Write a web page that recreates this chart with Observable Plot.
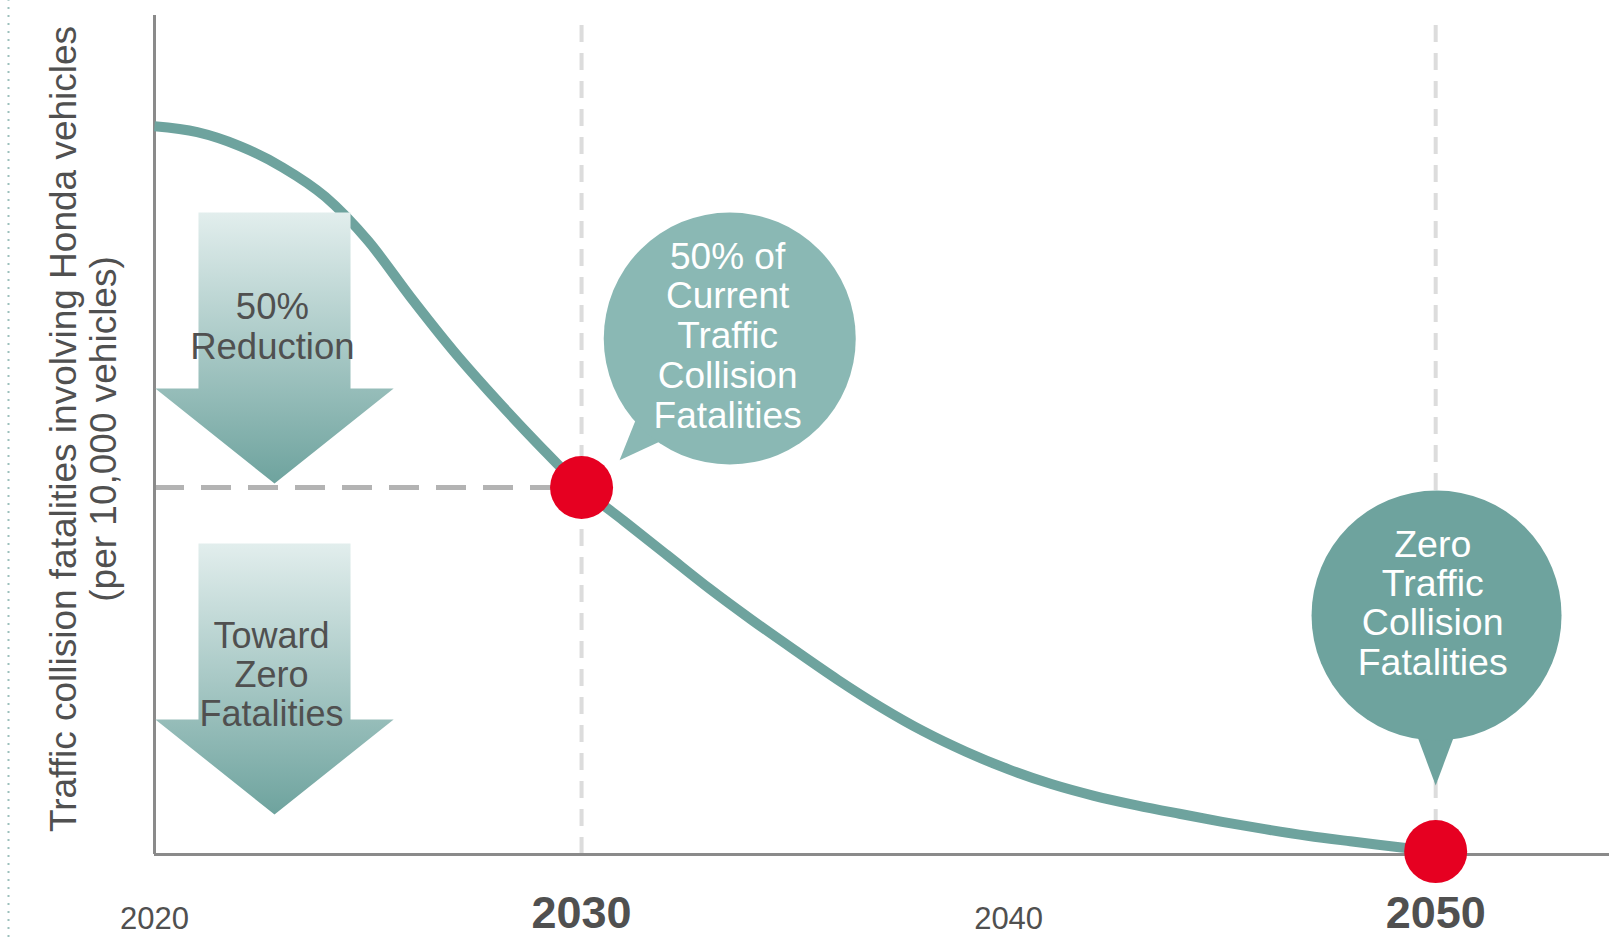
<!DOCTYPE html>
<html>
<head>
<meta charset="utf-8">
<script src="https://cdn.jsdelivr.net/npm/d3@7"></script>
<script src="https://cdn.jsdelivr.net/npm/@observablehq/plot@0.6"></script>
<style>
  body { margin: 0; background: #fff; }
  #chart svg { display: block; }
</style>
</head>
<body>
<div id="chart"></div>
<script>
// ---- data ----
const years = [2020,2021,2022,2023,2024,2025,2026,2027,2028,2029,2030,2031,2032,2033,2034,2035,2036,2037,2038,2039,2040,2041,2042,2043,2044,2045,2046,2047,2048,2049,2050];
const fatalities = [99.2,98.4,96.5,93.6,89.6,83.6,75.9,68.6,62.0,55.8,50.0,45.4,40.8,36.2,31.9,27.8,23.8,20.1,16.8,14.0,11.6,9.6,8.0,6.7,5.55,4.45,3.45,2.55,1.8,1.1,0.4];

const tickYears = [2020, 2030, 2040, 2050];
const tickBold = [false, true, false, true];

const milestoneYears = [2030, 2050];
const milestoneValues = [50, 0.4];

const yLabelLines = ["Traffic collision fatalities involving Honda vehicles", "(per 10,000 vehicles)"];
const arrowLabels = ["50%\nReduction", "Toward\nZero\nFatalities"];
const bubbleLabels = ["50% of\nCurrent\nTraffic\nCollision\nFatalities", "Zero\nTraffic\nCollision\nFatalities"];

// annotation anchors in data units (year, value)
const arrowX = {left: 2021.03, right: 2024.59, headLeft: 2020.02, headRight: 2025.60, tip: 2022.81};
const arrowTops = [87.47, 42.37];
const arrowNecks = [63.49, 18.39];
const arrowTips = [50.54, 5.45];
const arrowTextX = [2022.76, 2022.74];
const arrowTextY = [67.57, 17.57];

const bubbleX = [2033.47, 2050.02];
const bubbleY = [70.30, 32.56];
const bubbleTextX = [2033.42, 2049.93];
const bubbleTextY = [58.17, 24.52];
const tail1X = [2031.26, 2030.89, 2031.85];
const tail1Y = [59.1, 53.7, 56.3];
const tail2X = [2049.58, 2050.0, 2050.42];
const tail2Y = [15.94, 9.40, 15.94];

// ---- tables ----
const curve = years.map((y, i) => ({year: y, value: fatalities[i]}));
const milestones = milestoneYears.map((y, i) => ({year: y, value: milestoneValues[i]}));
const ticks = tickYears.map((y, i) => ({year: y, bold: tickBold[i], label: String(y)}));
const arrowPts = [];
arrowTops.forEach((top, i) => {
  const neck = arrowNecks[i], tip = arrowTips[i];
  [[arrowX.left, top], [arrowX.right, top], [arrowX.right, neck], [arrowX.headRight, neck],
   [arrowX.tip, tip], [arrowX.headLeft, neck], [arrowX.left, neck]]
    .forEach(([x, y]) => arrowPts.push({id: i, x, y}));
});
const arrowText = arrowLabels.map((t, i) => ({text: t, x: arrowTextX[i], y: arrowTextY[i]}));
const bubbles = bubbleX.map((x, i) => ({x, y: bubbleY[i], text: bubbleLabels[i], tx: bubbleTextX[i], ty: bubbleTextY[i]}));
const tail1 = tail1X.map((x, i) => ({x, y: tail1Y[i]}));
const tail2 = tail2X.map((x, i) => ({x, y: tail2Y[i]}));

const teal = "#6ea39e";
const tealLight = "#8ab8b4";
const red = "#e60021";
const grayText = "#505050";
const font = "Liberation Sans, Arial, Helvetica, sans-serif";
const xMax = 2054.07, yMax = 114.3;

const chart = Plot.plot({
  width: 1609,
  height: 937,
  marginLeft: 154,
  marginRight: 0,
  marginTop: 15,
  marginBottom: 83,
  x: {domain: [2020, xMax], axis: null},
  y: {domain: [0, yMax], axis: null},
  style: {fontFamily: font, background: "#fff", overflow: "visible"},
  marks: [
    // left dotted border
    Plot.ruleX([2020], {dx: -146, y1: -11.3, y2: 116.3, stroke: "#9cc0bc", strokeWidth: 2, strokeDasharray: "2 6"}),
    // milestone verticals
    Plot.ruleX(milestoneYears, {y1: 0, y2: yMax, stroke: "#dcdcdc", strokeWidth: 4, strokeDasharray: "17 11"}),
    // 50% horizontal
    Plot.ruleY([milestoneValues[0]], {x1: 2020, x2: milestoneYears[0], stroke: "#b3b3b3", strokeWidth: 5, strokeDasharray: "30 17"}),
    // axes
    Plot.ruleX([2020], {y1: 0, y2: yMax, stroke: "#8a8a8a", strokeWidth: 3}),
    Plot.ruleY([0], {x1: 2020, x2: xMax, stroke: "#8a8a8a", strokeWidth: 3}),
    // curve
    Plot.line(curve, {x: "year", y: "value", stroke: teal, strokeWidth: 10, strokeLinecap: "butt", curve: "monotone-x"}),
    // arrows
    Plot.line(arrowPts, {x: "x", y: "y", z: "id", fill: "url(#arrowGrad)", stroke: "none"}),
    Plot.text([arrowText[0]], {x: "x", y: "y", text: "text", fontSize: 36.5, lineHeight: 1.096, lineAnchor: "bottom", textAnchor: "middle", fill: grayText}),
    Plot.text([arrowText[1]], {x: "x", y: "y", text: "text", fontSize: 36, lineHeight: 1.083, lineAnchor: "bottom", textAnchor: "middle", fill: grayText}),
    // milestone dots
    Plot.dot(milestones, {x: "year", y: "value", r: 31.5, fill: red, stroke: "none"}),
    // bubbles
    Plot.line(tail1, {x: "x", y: "y", fill: tealLight, stroke: "none"}),
    Plot.dot([bubbles[0]], {x: "x", y: "y", r: 126, fill: tealLight, stroke: "none"}),
    Plot.line(tail2, {x: "x", y: "y", fill: teal, stroke: "none"}),
    Plot.dot([bubbles[1]], {x: "x", y: "y", r: 125, fill: teal, stroke: "none"}),
    Plot.text([bubbles[0]], {x: "tx", y: "ty", text: "text", fontSize: 37, lineHeight: 1.074, lineAnchor: "bottom", textAnchor: "middle", fill: "#fff"}),
    Plot.text([bubbles[1]], {x: "tx", y: "ty", text: "text", fontSize: 37.5, lineHeight: 1.049, lineAnchor: "bottom", textAnchor: "middle", fill: "#fff"}),
    // tick labels
    Plot.text(ticks.filter(d => !d.bold), {x: "year", text: "label", frameAnchor: "bottom", dy: 74, lineAnchor: "bottom", fontSize: 31, fill: grayText}),
    Plot.text(ticks.filter(d => d.bold), {x: "year", text: "label", frameAnchor: "bottom", dy: 73, lineAnchor: "bottom", fontSize: 45, fontWeight: "bold", fill: grayText}),
    // y label
    Plot.text([yLabelLines.join("\n")], {text: d => d, frameAnchor: "left", dx: -39, dy: -6, rotate: -90, fontSize: 37, lineHeight: 1.08, lineAnchor: "bottom", textAnchor: "middle", fill: grayText})
  ]
});

const defs = d3.select(chart).insert("defs", ":first-child");
const grad = defs.append("linearGradient").attr("id", "arrowGrad")
  .attr("x1", 0).attr("y1", 0).attr("x2", 0).attr("y2", 1);
grad.append("stop").attr("offset", "0%").attr("stop-color", "#e2eeed");
grad.append("stop").attr("offset", "100%").attr("stop-color", "#6ea39e");

document.getElementById("chart").appendChild(chart);
</script>
</body>
</html>
